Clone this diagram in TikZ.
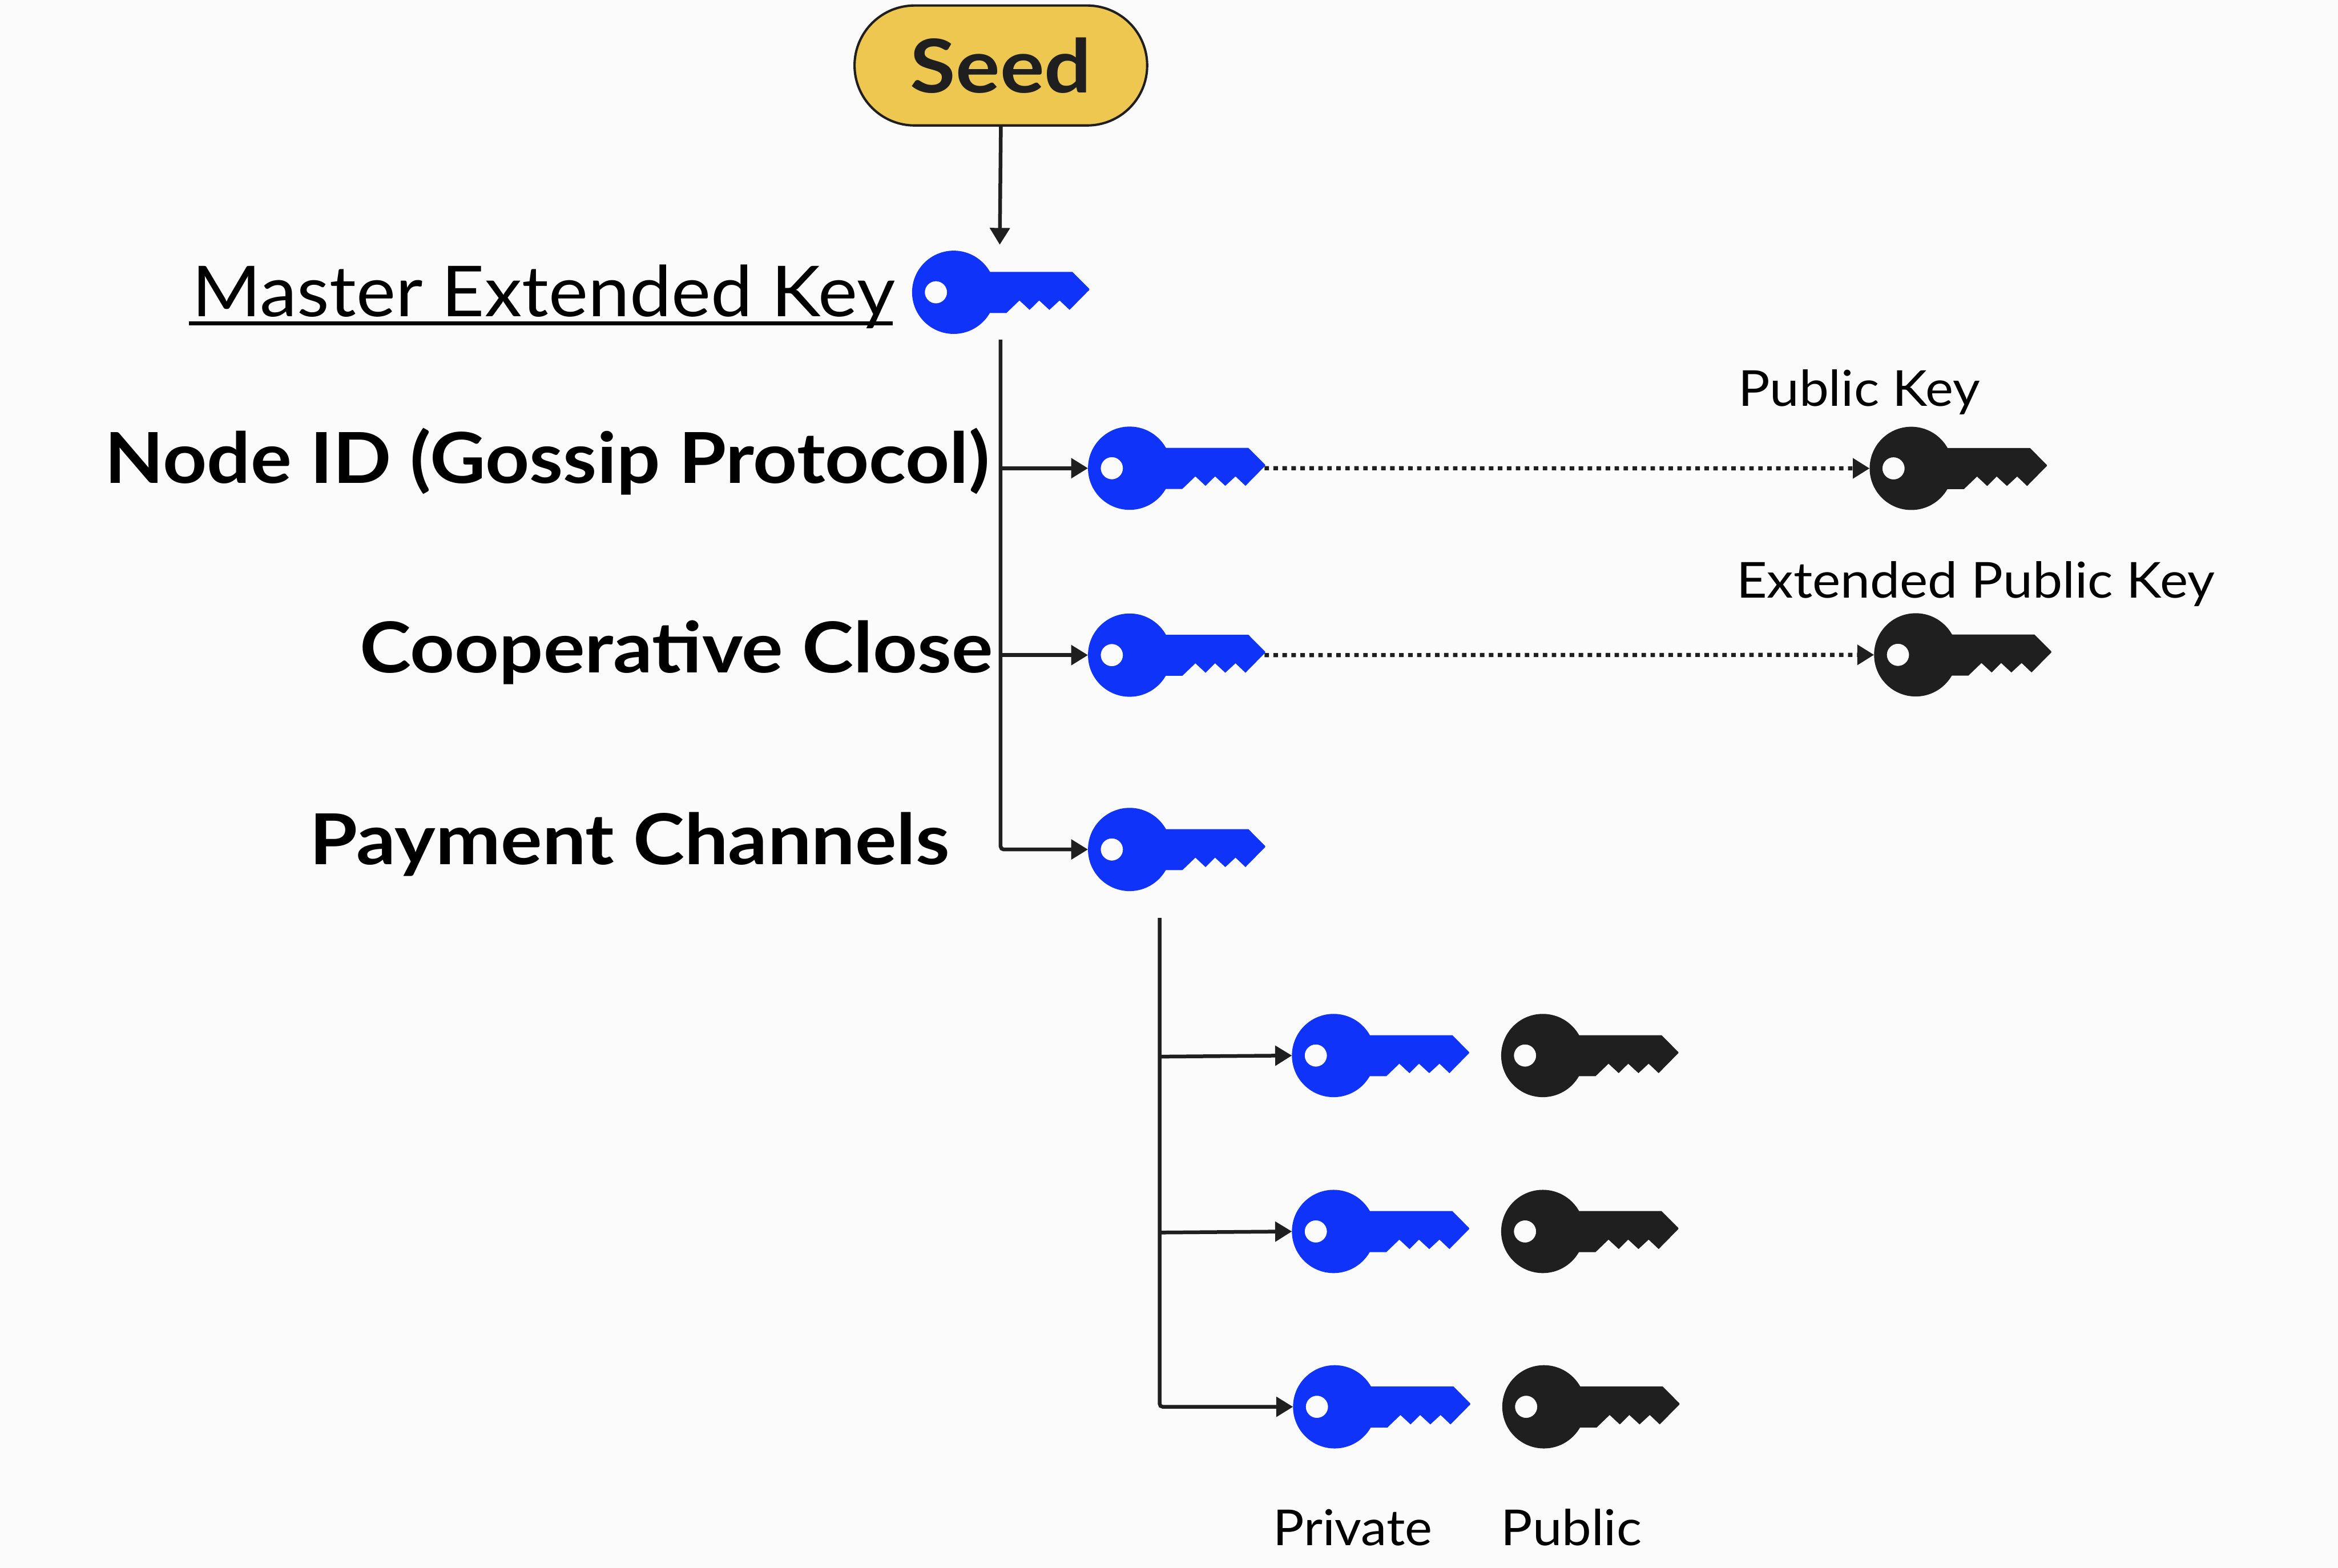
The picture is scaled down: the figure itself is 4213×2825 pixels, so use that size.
\documentclass[tikz,border=0pt]{standalone}
\usepackage{fontspec}
\setmainfont{Lato}
\usetikzlibrary{arrows.meta}
\definecolor{pagebg}{HTML}{FBFBFB}
\definecolor{keyblue}{HTML}{1033FA}
\definecolor{inkdark}{HTML}{1F1F1F}
\definecolor{seedfill}{HTML}{EDC750}
\newsavebox{\fitbox}
% scale a text horizontally to a given width in reference pixels
\newcommand{\fitto}[2]{\sbox{\fitbox}{#2}\pgfmathsetmacro{\fitr}{#1*0.284528/\the\wd\fitbox}\scalebox{\fitr}[1]{\usebox{\fitbox}}}
\newcommand{\bigfont}{\fontsize{36}{40}\selectfont}
\newcommand{\smallfont}{\fontsize{25.4}{30}\selectfont}
\newcommand{\seedfont}{\fontsize{38}{42}\selectfont}
\tikzset{
  lbl/.style={anchor=base west,inner sep=0pt,outer sep=0pt,text=black},
  seedbox/.style={draw=inkdark,fill=seedfill,line width=1.2pt,minimum width=5.27cm,minimum height=2.16cm,rounded corners=1.08cm,inner sep=0pt,outer sep=0pt,text=inkdark},
  conn/.style={draw=inkdark,line width=1.9pt,-{Triangle[length=8.6pt,width=10pt]}},
  trunk/.style={draw=inkdark,line width=1.9pt,rounded corners=1.6pt,-{Triangle[length=8.6pt,width=10pt]}},
  dotconn/.style={draw=inkdark,line width=2.1pt,dash pattern=on 2.3pt off 2.3pt,-{Triangle[length=8.6pt,width=10pt]}},
  keyicon/.pic={
    \coordinate (-c) at (0,0);
    \coordinate (-w) at (-75,0);
    \coordinate (-e) at (243,0);
    \fill[#1,even odd rule] (0,0) circle[radius=75] (-32,0) circle[radius=20];
    \fill[#1] (50,-36.7) -- (214,-36.7) -- (241,-9.5) .. controls (245.7,-5.2) .. (241,-1)
      -- (208.8,31.7) -- (190.8,14.7) -- (172.4,31.7) -- (154,14.7) -- (136.8,31.7) -- (118.5,14.7)
      -- (95,37.3) -- (50,37.3) -- cycle;
  }
}
\begin{document}
\begin{tikzpicture}[x=0.01cm,y=-0.01cm]
\useasboundingbox (0,0) rectangle (4213,2825);
\fill[pagebg] (0,0) rectangle (4213,2825);

\node[seedbox] (seed) at (1803.5,118) {\seedfont\bfseries\fitto{326}{Seed}};

\pic (kmaster) at (1718.5,526.7) {keyicon=keyblue};
\pic (knode) at (2035.5,843.7) {keyicon=keyblue};
\pic (kcoop) at (2035.5,1180.5) {keyicon=keyblue};
\pic (kpay) at (2035.5,1530.7) {keyicon=keyblue};
\pic (kpub) at (3444,844) {keyicon=inkdark};
\pic (kext) at (3452,1180) {keyicon=inkdark};
\pic (pa) at (2403,1902) {keyicon=keyblue};
\pic (pb) at (2403,2219) {keyicon=keyblue};
\pic (pc) at (2405,2535) {keyicon=keyblue};
\pic (qa) at (2780,1902) {keyicon=inkdark};
\pic (qb) at (2780,2219) {keyicon=inkdark};
\pic (qc) at (2782,2535) {keyicon=inkdark};

\node[lbl] (lmaster) at (346,570.7) {\bigfont\fitto{1266}{Master Extended Key}};
\node[lbl] (lnode) at (189,870.7) {\bigfont\bfseries\fitto{1593}{Node ID (Gossip Protocol)}};
\node[lbl] (lcoop) at (648,1212) {\bigfont\bfseries\fitto{1140}{Cooperative Close}};
\node[lbl] (lpay) at (558,1557.5) {\bigfont\bfseries\fitto{1153}{Payment Channels}};
\node[lbl] (lpub) at (3132,732) {\smallfont\fitto{436}{Public Key}};
\node[lbl] (lext) at (3129,1077) {\smallfont\fitto{861}{Extended Public Key}};
\node[lbl] (lpriv) at (2294,2784.5) {\smallfont\fitto{287}{Private}};
\node[lbl] (lpublic) at (2705,2784.5) {\smallfont\fitto{253}{Public}};

\coordinate (ulstart) at (340,582.7);
\coordinate (ulend) at (1609,582.7);
\draw[black,line width=2pt] (ulstart) -- (ulend);

\coordinate (seedtip) at (1801.5,441);
\coordinate (trunkA) at (1803,612);
\coordinate (trunkB) at (2089.5,1654);
\coordinate (ba) at (2089.5,1904);
\coordinate (bb) at (2089.5,2221);

\draw[conn] (seed.south) -- (seedtip);
\draw[trunk] (trunkA) |- (kpay-w);
\draw[conn] (trunkA |- knode-w) -- (knode-w);
\draw[conn] (trunkA |- kcoop-w) -- (kcoop-w);
\draw[dotconn] (knode-e) -- (kpub-w);
\draw[dotconn] (kcoop-e) -- (kext-w);
\draw[trunk] (trunkB) |- (pc-w);
\draw[conn] (ba) -- (pa-w);
\draw[conn] (bb) -- (pb-w);
\end{tikzpicture}
\end{document}
